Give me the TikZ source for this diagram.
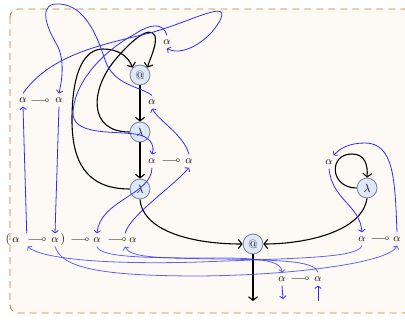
\documentclass[tikz,border=0pt]{standalone}
\usepackage{amssymb}
\usetikzlibrary{arrows.meta}
\definecolor{framefill}{RGB}{253,250,245}
\definecolor{framedraw}{RGB}{200,120,50}
\definecolor{nodefill}{RGB}{222,232,248}
\definecolor{nodedraw}{RGB}{120,130,145}
\definecolor{flow}{RGB}{45,45,255}
\newcommand{\lolli}{\relbar\joinrel\multimap}
\begin{document}
\begin{tikzpicture}[x=1pt,y=-1pt,
  term/.style={circle,draw=nodedraw,fill=nodefill,line width=0.8pt,minimum size=20pt,inner sep=0pt,font=\fontsize{12}{14}\selectfont},
  ty/.style={inner xsep=1pt,inner ysep=4pt,font=\fontsize{11}{13}\selectfont},
  sym/.style={inner sep=0pt,font=\fontsize{11}{13}\selectfont},
  edge/.style={line width=1.1pt,-{Straight Barb[length=3.5pt,width=9pt]}},
  flowarr/.style={draw=flow,line width=0.8pt,-{Straight Barb[length=2.5pt,width=6.5pt]}},
  flowlow/.style={draw=flow,draw opacity=0.75,line width=0.8pt},
]
\useasboundingbox (0,0) rectangle (405,320);
\draw[framedraw,fill=framefill,dash pattern=on 7pt off 5pt,rounded corners=8pt,line width=0.8pt] (10,9) rectangle (412,313);

% term nodes
\node[term] (at1) at (140,75) {@};
\node[term] (lam1) at (140,132) {$\lambda$};
\node[term] (lam2) at (140,189) {$\lambda$};
\node[term] (at2) at (253,244) {@};
\node[term] (lam3) at (367,188) {$\lambda$};
\coordinate (out) at (253,301);

% type labels
\node[ty] (aT) at (167,42) {$\alpha$};
\node[ty] (aM) at (152,102) {$\alpha$};
\node[ty] (aL1) at (23,100) {$\alpha$};
\node[sym] (mL) at (40,100) {$\lolli$};
\node[ty] (aL2) at (59,100) {$\alpha$};
\node[ty] (aN1) at (152,161) {$\alpha$};
\node[sym] (mN) at (171,160) {$\lolli$};
\node[ty] (aN2) at (189,161) {$\alpha$};
\node[ty] (aR) at (329,162) {$\alpha$};
\node[sym] (p1) at (8,240) {\fontsize{12}{14}\selectfont$($};
\node[ty] (b1) at (16,240) {$\alpha$};
\node[sym] (m1) at (37,239) {$\lolli$};
\node[ty] (b2) at (55,240) {$\alpha$};
\node[sym] (p2) at (63,240) {\fontsize{12}{14}\selectfont$)$};
\node[sym] (m2) at (80,239) {$\lolli$};
\node[ty] (b3) at (97,240) {$\alpha$};
\node[sym] (m3) at (117,239) {$\lolli$};
\node[ty] (b4) at (133,240) {$\alpha$};
\node[ty] (r1) at (362,239) {$\alpha$};
\node[sym] (mr) at (380,238) {$\lolli$};
\node[ty] (r2) at (397,239) {$\alpha$};
\node[ty] (c1) at (282,279) {$\alpha$};
\node[sym] (mc) at (300,278) {$\lolli$};
\node[ty] (c2) at (318,279) {$\alpha$};
\coordinate (c1out) at (283,299);
\coordinate (c2in) at (318,301);

% black edges
\draw[edge] (at1) -- (lam1);
\draw[edge] (lam1) -- (lam2);
\draw[edge] (lam2.south) .. controls (142,228) and (185,244) .. (at2.west);
\draw[edge] (lam3.south) .. controls (362,232) and (305,244) .. (at2.east);
\draw[edge] (at2) -- (out);
\draw[edge] (lam1.west) .. controls (88,132) and (90,90) .. (115,60) .. controls (130,42) and (150,24) .. (155,36) .. controls (157,45) and (151,56) .. (at1.north east);
\draw[edge] (lam2.west) .. controls (85,189) and (72,160) .. (72,120) .. controls (72,70) and (85,49) .. (103,49) .. controls (118,49) and (128,56) .. (at1.north west);
\draw[edge] (lam3.west) .. controls (330,188) and (328,154) .. (352,154) .. controls (365,154) and (368,165) .. (lam3.north);

% blue flow lines
\draw[flowarr] (aL1.north) .. controls (50,55) and (100,45) .. (150,33) .. controls (190,22) and (228,0) .. (221,18) .. controls (214,36) and (185,58) .. (aT.south);
\draw[flowarr] (aM.north) .. controls (140,86) and (114,86) .. (105,60) .. controls (97,35) and (85,6) .. (60,4) .. controls (38,2) and (45,25) .. (57,45) .. controls (65,60) and (62,80) .. (aL2.north);
\draw[flowarr] (aT.north) .. controls (163,22) and (150,24) .. (135,34) .. controls (105,50) and (75,80) .. (73,112) .. controls (72,135) and (110,131) .. (135,134) .. controls (150,136) and (155,145) .. (aN1.north);
\draw[flowarr] (aN2.north) .. controls (184,135) and (160,122) .. (aM.south);
\draw[flowarr] ([xshift=-8pt]b4.north) .. controls (130,215) and (175,185) .. (aN2.south);
\draw[flowarr] (aN1.south) .. controls (152,195) and (100,200) .. (b3.north);
\draw[flowarr] (aL2.south) -- (b2.north);
\draw[flowarr] ([xshift=6pt]b1.north east) -- (aL1.south);
\draw[flowarr] (aR.south) .. controls (332,200) and (360,205) .. (r1.north);
\draw[flowarr] (r2.north) .. controls (395,180) and (394,143) .. (365,143) .. controls (350,143) and (340,148) .. (aR.north east);
\draw[flowarr,flowlow] (b2.south) .. controls (62,268) and (100,276) .. (200,276) .. controls (300,275) and (390,262) .. (r2.south);
\draw[flowarr,flowlow] (r1.south) .. controls (358,258) and (300,258) .. (200,262) .. controls (100,265) and (40,258) .. ([xshift=7pt]b1.south east);
\draw[flowarr,flowlow] (b3.south) .. controls (100,258) and (150,258) .. (220,258) .. controls (260,258) and (282,261) .. (c1.north);
\draw[flowarr,flowlow] (c2.north) .. controls (315,262) and (290,260) .. (220,259) .. controls (160,258) and (130,258) .. ([xshift=-8pt]b4.south);
\draw[flowarr] (c1.south) -- (c1out);
\draw[flowarr] (c2in) -- (c2.south);
\end{tikzpicture}
\end{document}
